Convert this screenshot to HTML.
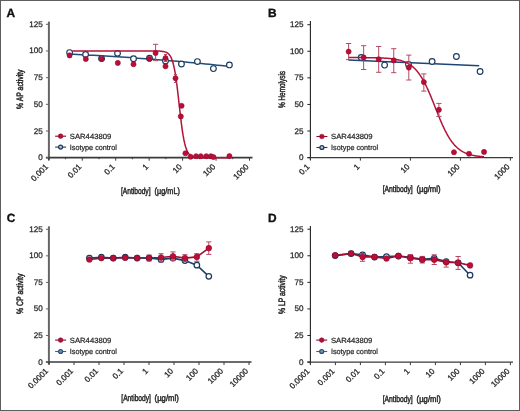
<!DOCTYPE html>
<html><head><meta charset="utf-8"><style>
html,body{margin:0;padding:0;background:#fff;}
body{width:520px;height:411px;overflow:hidden;position:relative;}
.frame{position:absolute;left:0;top:0;width:518px;height:409px;border:1px solid #5e5e5e;}
svg{position:absolute;left:0;top:0;will-change:transform;}
text{font-family:"Liberation Sans",sans-serif;text-rendering:geometricPrecision;}
.tk{font-size:8.1px;fill:#2b2b2b;stroke:#2b2b2b;stroke-width:0.28px;}
.lg{font-size:7.5px;fill:#2b2b2b;stroke:#2b2b2b;stroke-width:0.24px;}
.lb{font-weight:normal;fill:#2b2b2b;stroke:#2b2b2b;stroke-width:0.5px;}
</style></head><body>
<div class="frame"></div>
<svg width="520" height="411" viewBox="0 0 520 411">
<text x="6.5" y="16.7" font-weight="bold" font-size="11.9" fill="#111" stroke="#111" stroke-width="0.35">A</text>
<line x1="48.9" y1="21.6" x2="48.9" y2="160.2" stroke="#666" stroke-width="2"/>
<line x1="45.9" y1="157.7" x2="252.5" y2="157.7" stroke="#3a3a3a" stroke-width="1.8"/>
<line x1="45.9" y1="157.70" x2="48.9" y2="157.70" stroke="#666" stroke-width="1"/>
<text x="42.8" y="160.20" class="tk" text-anchor="end">0</text>
<line x1="45.9" y1="131.02" x2="48.9" y2="131.02" stroke="#666" stroke-width="1"/>
<text x="42.8" y="133.52" class="tk" text-anchor="end">25</text>
<line x1="45.9" y1="104.34" x2="48.9" y2="104.34" stroke="#666" stroke-width="1"/>
<text x="42.8" y="106.84" class="tk" text-anchor="end">50</text>
<line x1="45.9" y1="77.66" x2="48.9" y2="77.66" stroke="#666" stroke-width="1"/>
<text x="42.8" y="80.16" class="tk" text-anchor="end">75</text>
<line x1="45.9" y1="50.98" x2="48.9" y2="50.98" stroke="#666" stroke-width="1"/>
<text x="42.8" y="53.48" class="tk" text-anchor="end">100</text>
<line x1="45.9" y1="24.30" x2="48.9" y2="24.30" stroke="#666" stroke-width="1"/>
<text x="42.8" y="26.80" class="tk" text-anchor="end">125</text>
<line x1="48.80" y1="157.7" x2="48.80" y2="160.7" stroke="#3a3a3a" stroke-width="1"/>
<line x1="65.53" y1="157.7" x2="65.53" y2="159.2" stroke="#3a3a3a" stroke-width="1"/>
<text x="0" y="0" transform="translate(48.60,167.30) rotate(-45)" class="tk" text-anchor="end">0.001</text>
<line x1="82.25" y1="157.7" x2="82.25" y2="160.7" stroke="#3a3a3a" stroke-width="1"/>
<line x1="98.97" y1="157.7" x2="98.97" y2="159.2" stroke="#3a3a3a" stroke-width="1"/>
<text x="0" y="0" transform="translate(82.05,167.30) rotate(-45)" class="tk" text-anchor="end">0.01</text>
<line x1="115.70" y1="157.7" x2="115.70" y2="160.7" stroke="#3a3a3a" stroke-width="1"/>
<line x1="132.43" y1="157.7" x2="132.43" y2="159.2" stroke="#3a3a3a" stroke-width="1"/>
<text x="0" y="0" transform="translate(115.50,167.30) rotate(-45)" class="tk" text-anchor="end">0.1</text>
<line x1="149.15" y1="157.7" x2="149.15" y2="160.7" stroke="#3a3a3a" stroke-width="1"/>
<line x1="165.88" y1="157.7" x2="165.88" y2="159.2" stroke="#3a3a3a" stroke-width="1"/>
<text x="0" y="0" transform="translate(148.95,167.30) rotate(-45)" class="tk" text-anchor="end">1</text>
<line x1="182.60" y1="157.7" x2="182.60" y2="160.7" stroke="#3a3a3a" stroke-width="1"/>
<line x1="199.32" y1="157.7" x2="199.32" y2="159.2" stroke="#3a3a3a" stroke-width="1"/>
<text x="0" y="0" transform="translate(182.40,167.30) rotate(-45)" class="tk" text-anchor="end">10</text>
<line x1="216.05" y1="157.7" x2="216.05" y2="160.7" stroke="#3a3a3a" stroke-width="1"/>
<line x1="232.78" y1="157.7" x2="232.78" y2="159.2" stroke="#3a3a3a" stroke-width="1"/>
<text x="0" y="0" transform="translate(215.85,167.30) rotate(-45)" class="tk" text-anchor="end">100</text>
<line x1="249.50" y1="157.7" x2="249.50" y2="160.7" stroke="#3a3a3a" stroke-width="1"/>
<text x="0" y="0" transform="translate(249.30,167.30) rotate(-45)" class="tk" text-anchor="end">1000</text>
<text x="0" y="0" transform="translate(23.0,89.2) rotate(-90) scale(0.735,1)" class="lb" font-size="9.3" text-anchor="middle">% AP activity</text>
<text x="0" y="0" transform="translate(120.9,193.8) scale(0.74,1)" class="lb" font-size="9.0">[Antibody]</text>
<text x="0" y="0" transform="translate(154.6,193.8) scale(0.81,1)" class="lb" font-size="9.0">(µg/mL)</text>
<line x1="55.1" y1="136.2" x2="66.1" y2="136.2" stroke="#8e0b2d" stroke-width="1.1"/>
<circle cx="60.6" cy="136.2" r="2.35" fill="#b40d36" stroke="#8e0b2d" stroke-width="0.5"/>
<text x="0" y="0" transform="translate(69.8,138.79999999999998) scale(1.025,1)" class="lg">SAR443809</text>
<line x1="55.1" y1="147.1" x2="66.1" y2="147.1" stroke="#1c3a5e" stroke-width="1.1"/>
<circle cx="60.6" cy="147.1" r="1.95" fill="#b9c6d6" stroke="#1c3a5e" stroke-width="1.25"/>
<text x="0" y="0" transform="translate(69.8,149.7) scale(0.965,1)" class="lg">Isotype control</text>
<path d="M69.60,54.18 L73.59,54.36 L77.59,54.55 L81.58,54.75 L85.58,54.95 L89.57,55.16 L93.57,55.37 L97.56,55.59 L101.56,55.82 L105.55,56.05 L109.55,56.29 L113.55,56.54 L117.54,56.79 L121.53,57.05 L125.53,57.32 L129.52,57.59 L133.52,57.87 L137.51,58.15 L141.51,58.44 L145.50,58.74 L149.50,59.04 L153.50,59.35 L157.49,59.67 L161.49,59.99 L165.48,60.32 L169.48,60.66 L173.47,61.00 L177.47,61.35 L181.46,61.70 L185.46,62.06 L189.45,62.43 L193.44,62.80 L197.44,63.18 L201.44,63.57 L205.43,63.96 L209.42,64.36 L213.42,64.77 L217.41,65.18 L221.41,65.60 L225.41,66.02 L229.40,66.45" fill="none" stroke="#1f4e79" stroke-width="1.5"/>
<circle cx="69.6" cy="52.6" r="2.85" fill="#fff" stroke="#1c3a5e" stroke-width="1.15"/>
<circle cx="85.58" cy="54.4" r="2.85" fill="#fff" stroke="#1c3a5e" stroke-width="1.15"/>
<circle cx="101.56" cy="58.6" r="2.85" fill="#fff" stroke="#1c3a5e" stroke-width="1.15"/>
<circle cx="117.53999999999999" cy="53.3" r="2.85" fill="#fff" stroke="#1c3a5e" stroke-width="1.15"/>
<circle cx="133.51999999999998" cy="58.7" r="2.85" fill="#fff" stroke="#1c3a5e" stroke-width="1.15"/>
<circle cx="149.5" cy="58.2" r="2.85" fill="#fff" stroke="#1c3a5e" stroke-width="1.15"/>
<circle cx="165.48" cy="61.0" r="2.85" fill="#fff" stroke="#1c3a5e" stroke-width="1.15"/>
<circle cx="181.45999999999998" cy="64.0" r="2.85" fill="#fff" stroke="#1c3a5e" stroke-width="1.15"/>
<circle cx="197.44" cy="61.6" r="2.85" fill="#fff" stroke="#1c3a5e" stroke-width="1.15"/>
<circle cx="213.42" cy="68.6" r="2.85" fill="#fff" stroke="#1c3a5e" stroke-width="1.15"/>
<circle cx="229.4" cy="64.9" r="2.85" fill="#fff" stroke="#1c3a5e" stroke-width="1.15"/>
<path d="M72.30,50.98 L73.09,50.98 L73.87,50.98 L74.66,50.98 L75.44,50.98 L76.23,50.98 L77.01,50.98 L77.80,50.98 L78.58,50.98 L79.37,50.98 L80.16,50.98 L80.94,50.98 L81.73,50.98 L82.51,50.98 L83.30,50.98 L84.08,50.98 L84.87,50.98 L85.65,50.98 L86.44,50.98 L87.22,50.98 L88.01,50.98 L88.80,50.98 L89.58,50.98 L90.37,50.98 L91.15,50.98 L91.94,50.98 L92.72,50.98 L93.51,50.98 L94.29,50.98 L95.08,50.98 L95.87,50.98 L96.65,50.98 L97.44,50.98 L98.22,50.98 L99.01,50.98 L99.79,50.98 L100.58,50.98 L101.36,50.98 L102.15,50.98 L102.93,50.98 L103.72,50.98 L104.51,50.98 L105.29,50.98 L106.08,50.98 L106.86,50.98 L107.65,50.98 L108.43,50.98 L109.22,50.98 L110.00,50.98 L110.79,50.98 L111.58,50.98 L112.36,50.98 L113.15,50.98 L113.93,50.98 L114.72,50.98 L115.50,50.98 L116.29,50.98 L117.07,50.98 L117.86,50.98 L118.64,50.98 L119.43,50.98 L120.22,50.98 L121.00,50.98 L121.79,50.98 L122.57,50.98 L123.36,50.98 L124.14,50.98 L124.93,50.98 L125.71,50.98 L126.50,50.98 L127.28,50.98 L128.07,50.98 L128.86,50.98 L129.64,50.98 L130.43,50.98 L131.21,50.98 L132.00,50.98 L132.78,50.98 L133.57,50.98 L134.35,50.98 L135.14,50.98 L135.93,50.98 L136.71,50.98 L137.50,50.98 L138.28,50.98 L139.07,50.98 L139.85,50.98 L140.64,50.98 L141.42,50.98 L142.21,50.98 L143.00,50.98 L143.78,50.98 L144.57,50.98 L145.35,50.98 L146.14,50.98 L146.92,50.98 L147.71,50.98 L148.49,50.98 L149.28,50.98 L150.06,50.99 L150.85,50.99 L151.64,50.99 L152.42,50.99 L153.21,51.00 L153.99,51.00 L154.78,51.01 L155.56,51.02 L156.35,51.03 L157.13,51.04 L157.92,51.06 L158.71,51.09 L159.49,51.12 L160.28,51.16 L161.06,51.22 L161.85,51.29 L162.63,51.38 L163.42,51.51 L164.20,51.66 L164.99,51.87 L165.77,52.14 L166.56,52.48 L167.35,52.93 L168.13,53.51 L168.92,54.25 L169.70,55.21 L170.49,56.42 L171.27,57.97 L172.06,59.91 L172.84,62.33 L173.63,65.31 L174.42,68.93 L175.20,73.24 L175.99,78.26 L176.77,83.98 L177.56,90.30 L178.34,97.08 L179.13,104.10 L179.91,111.13 L180.70,117.93 L181.48,124.29 L182.27,130.05 L183.06,135.13 L183.84,139.48 L184.63,143.15 L185.41,146.17 L186.20,148.62 L186.98,150.59 L187.77,152.16 L188.55,153.40 L189.34,154.37 L190.12,155.13 L190.91,155.71 L191.70,156.17 L192.48,156.52 L193.27,156.79 L194.05,157.00 L194.84,157.16 L195.62,157.29 L196.41,157.38 L197.19,157.46 L197.98,157.51 L198.77,157.56 L199.55,157.59 L200.34,157.62 L201.12,157.64 L201.91,157.65 L202.69,157.66 L203.48,157.67 L204.26,157.68 L205.05,157.68 L205.84,157.69 L206.62,157.69 L207.41,157.69 L208.19,157.69 L208.98,157.70 L209.76,157.70 L210.55,157.70 L211.33,157.70 L212.12,157.70 L212.90,157.70 L213.69,157.70 L214.48,157.70 L215.26,157.70 L216.05,157.70 L216.83,157.70 L217.62,157.70 L218.40,157.70 L219.19,157.70 L219.97,157.70 L220.76,157.70 L221.55,157.70 L222.33,157.70 L223.12,157.70 L223.90,157.70 L224.69,157.70 L225.47,157.70 L226.26,157.70 L227.04,157.70 L227.83,157.70 L228.61,157.70 L229.40,157.70" fill="none" stroke="#b3123a" stroke-width="1.5"/>
<line x1="155.6" y1="44.3" x2="155.6" y2="60.7" stroke="#b34a66" stroke-width="1"/>
<line x1="153.0" y1="44.3" x2="158.2" y2="44.3" stroke="#b34a66" stroke-width="1"/>
<line x1="153.0" y1="60.7" x2="158.2" y2="60.7" stroke="#b34a66" stroke-width="1"/>
<line x1="165.5" y1="54.5" x2="165.5" y2="61.5" stroke="#b34a66" stroke-width="1"/>
<line x1="164.0" y1="54.5" x2="167.0" y2="54.5" stroke="#b34a66" stroke-width="1"/>
<line x1="164.0" y1="61.5" x2="167.0" y2="61.5" stroke="#b34a66" stroke-width="1"/>
<line x1="175.5" y1="74.6" x2="175.5" y2="82.5" stroke="#b34a66" stroke-width="1"/>
<line x1="174.0" y1="74.6" x2="177.0" y2="74.6" stroke="#b34a66" stroke-width="1"/>
<line x1="174.0" y1="82.5" x2="177.0" y2="82.5" stroke="#b34a66" stroke-width="1"/>
<circle cx="69.6" cy="55.4" r="2.55" fill="#bc0d37" stroke="#8e0b2d" stroke-width="0.6"/>
<circle cx="85.8" cy="59" r="2.55" fill="#bc0d37" stroke="#8e0b2d" stroke-width="0.6"/>
<circle cx="101.7" cy="58.75" r="2.55" fill="#bc0d37" stroke="#8e0b2d" stroke-width="0.6"/>
<circle cx="117.8" cy="62.9" r="2.55" fill="#bc0d37" stroke="#8e0b2d" stroke-width="0.6"/>
<circle cx="133.5" cy="64.2" r="2.55" fill="#bc0d37" stroke="#8e0b2d" stroke-width="0.6"/>
<circle cx="149.3" cy="58.75" r="2.55" fill="#bc0d37" stroke="#8e0b2d" stroke-width="0.6"/>
<circle cx="155.6" cy="53" r="2.55" fill="#bc0d37" stroke="#8e0b2d" stroke-width="0.6"/>
<circle cx="165.5" cy="58.1" r="2.55" fill="#bc0d37" stroke="#8e0b2d" stroke-width="0.6"/>
<circle cx="165.5" cy="66.3" r="2.55" fill="#bc0d37" stroke="#8e0b2d" stroke-width="0.6"/>
<circle cx="175.5" cy="78.2" r="2.55" fill="#bc0d37" stroke="#8e0b2d" stroke-width="0.6"/>
<circle cx="181.6" cy="105.8" r="2.55" fill="#bc0d37" stroke="#8e0b2d" stroke-width="0.6"/>
<circle cx="180.8" cy="116.4" r="2.55" fill="#bc0d37" stroke="#8e0b2d" stroke-width="0.6"/>
<circle cx="185.4" cy="153.3" r="2.55" fill="#bc0d37" stroke="#8e0b2d" stroke-width="0.6"/>
<circle cx="190.6" cy="156.7" r="2.55" fill="#bc0d37" stroke="#8e0b2d" stroke-width="0.6"/>
<circle cx="196.1" cy="156.2" r="2.55" fill="#bc0d37" stroke="#8e0b2d" stroke-width="0.6"/>
<circle cx="200.8" cy="156.2" r="2.55" fill="#bc0d37" stroke="#8e0b2d" stroke-width="0.6"/>
<circle cx="206.3" cy="156.2" r="2.55" fill="#bc0d37" stroke="#8e0b2d" stroke-width="0.6"/>
<circle cx="210.9" cy="156.2" r="2.55" fill="#bc0d37" stroke="#8e0b2d" stroke-width="0.6"/>
<circle cx="213.4" cy="157" r="2.55" fill="#bc0d37" stroke="#8e0b2d" stroke-width="0.6"/>
<circle cx="229.4" cy="156.1" r="2.55" fill="#bc0d37" stroke="#8e0b2d" stroke-width="0.6"/>
<text x="267.9" y="17.0" font-weight="bold" font-size="11.9" fill="#111" stroke="#111" stroke-width="0.35">B</text>
<line x1="310.4" y1="21.0" x2="310.4" y2="160.1" stroke="#222" stroke-width="1.1"/>
<line x1="307.4" y1="157.6" x2="513" y2="157.6" stroke="#3a3a3a" stroke-width="1.4"/>
<line x1="307.4" y1="157.60" x2="310.4" y2="157.60" stroke="#222" stroke-width="1"/>
<text x="303.59999999999997" y="160.10" class="tk" text-anchor="end">0</text>
<line x1="307.4" y1="131.02" x2="310.4" y2="131.02" stroke="#222" stroke-width="1"/>
<text x="303.59999999999997" y="133.52" class="tk" text-anchor="end">25</text>
<line x1="307.4" y1="104.44" x2="310.4" y2="104.44" stroke="#222" stroke-width="1"/>
<text x="303.59999999999997" y="106.94" class="tk" text-anchor="end">50</text>
<line x1="307.4" y1="77.86" x2="310.4" y2="77.86" stroke="#222" stroke-width="1"/>
<text x="303.59999999999997" y="80.36" class="tk" text-anchor="end">75</text>
<line x1="307.4" y1="51.28" x2="310.4" y2="51.28" stroke="#222" stroke-width="1"/>
<text x="303.59999999999997" y="53.78" class="tk" text-anchor="end">100</text>
<line x1="307.4" y1="24.70" x2="310.4" y2="24.70" stroke="#222" stroke-width="1"/>
<text x="303.59999999999997" y="27.20" class="tk" text-anchor="end">125</text>
<line x1="310.40" y1="157.6" x2="310.40" y2="160.6" stroke="#3a3a3a" stroke-width="1"/>
<text x="0" y="0" transform="translate(310.20,167.20) rotate(-45)" class="tk" text-anchor="end">0.1</text>
<line x1="360.40" y1="157.6" x2="360.40" y2="160.6" stroke="#3a3a3a" stroke-width="1"/>
<text x="0" y="0" transform="translate(360.20,167.20) rotate(-45)" class="tk" text-anchor="end">1</text>
<line x1="410.40" y1="157.6" x2="410.40" y2="160.6" stroke="#3a3a3a" stroke-width="1"/>
<text x="0" y="0" transform="translate(410.20,167.20) rotate(-45)" class="tk" text-anchor="end">10</text>
<line x1="460.40" y1="157.6" x2="460.40" y2="160.6" stroke="#3a3a3a" stroke-width="1"/>
<text x="0" y="0" transform="translate(460.20,167.20) rotate(-45)" class="tk" text-anchor="end">100</text>
<line x1="510.40" y1="157.6" x2="510.40" y2="160.6" stroke="#3a3a3a" stroke-width="1"/>
<text x="0" y="0" transform="translate(510.20,167.20) rotate(-45)" class="tk" text-anchor="end">1000</text>
<text x="0" y="0" transform="translate(284.6,89.5) rotate(-90) scale(0.69,1)" class="lb" font-size="9.3" text-anchor="middle">% Hemolysis</text>
<text x="0" y="0" transform="translate(382.7,191.7) scale(0.75,1)" class="lb" font-size="9.0">[Antibody]</text>
<text x="0" y="0" transform="translate(416.4,191.7) scale(0.855,1)" class="lb" font-size="9.0">(µg/ml)</text>
<line x1="316.4" y1="136.5" x2="327.4" y2="136.5" stroke="#8e0b2d" stroke-width="1.1"/>
<circle cx="321.9" cy="136.5" r="2.35" fill="#b40d36" stroke="#8e0b2d" stroke-width="0.5"/>
<text x="0" y="0" transform="translate(331.09999999999997,139.1) scale(1.025,1)" class="lg">SAR443809</text>
<line x1="316.4" y1="147.5" x2="327.4" y2="147.5" stroke="#1c3a5e" stroke-width="1.1"/>
<circle cx="321.9" cy="147.5" r="1.95" fill="#b9c6d6" stroke="#1c3a5e" stroke-width="1.25"/>
<text x="0" y="0" transform="translate(331.09999999999997,150.1) scale(0.965,1)" class="lg">Isotype control</text>
<line x1="348.4" y1="60.0" x2="479.2" y2="65.8" stroke="#1d4472" stroke-width="1.6"/>
<circle cx="361.2" cy="57.4" r="2.85" fill="#fff" stroke="#1c3a5e" stroke-width="1.15"/>
<circle cx="384.6" cy="65.1" r="2.85" fill="#fff" stroke="#1c3a5e" stroke-width="1.15"/>
<circle cx="408.5" cy="64.5" r="2.85" fill="#fff" stroke="#1c3a5e" stroke-width="1.15"/>
<circle cx="432.1" cy="61.5" r="2.85" fill="#fff" stroke="#1c3a5e" stroke-width="1.15"/>
<circle cx="456.4" cy="56.5" r="2.85" fill="#fff" stroke="#1c3a5e" stroke-width="1.15"/>
<circle cx="480.1" cy="71.5" r="2.85" fill="#fff" stroke="#1c3a5e" stroke-width="1.15"/>
<path d="M348.60,57.57 L349.28,57.58 L349.95,57.58 L350.63,57.58 L351.31,57.58 L351.99,57.58 L352.66,57.58 L353.34,57.58 L354.02,57.59 L354.69,57.59 L355.37,57.59 L356.05,57.59 L356.72,57.59 L357.40,57.60 L358.08,57.60 L358.75,57.60 L359.43,57.61 L360.11,57.61 L360.79,57.61 L361.46,57.62 L362.14,57.62 L362.82,57.62 L363.49,57.63 L364.17,57.63 L364.85,57.64 L365.53,57.64 L366.20,57.65 L366.88,57.66 L367.56,57.66 L368.23,57.67 L368.91,57.68 L369.59,57.69 L370.26,57.70 L370.94,57.71 L371.62,57.72 L372.30,57.73 L372.97,57.74 L373.65,57.75 L374.33,57.77 L375.00,57.78 L375.68,57.80 L376.36,57.81 L377.03,57.83 L377.71,57.85 L378.39,57.87 L379.06,57.89 L379.74,57.92 L380.42,57.94 L381.10,57.97 L381.77,58.00 L382.45,58.03 L383.13,58.06 L383.80,58.10 L384.48,58.14 L385.16,58.18 L385.84,58.22 L386.51,58.27 L387.19,58.32 L387.87,58.37 L388.54,58.43 L389.22,58.49 L389.90,58.55 L390.57,58.62 L391.25,58.70 L391.93,58.78 L392.61,58.86 L393.28,58.96 L393.96,59.05 L394.64,59.16 L395.31,59.27 L395.99,59.39 L396.67,59.51 L397.34,59.65 L398.02,59.80 L398.70,59.95 L399.38,60.12 L400.05,60.29 L400.73,60.48 L401.41,60.68 L402.08,60.90 L402.76,61.13 L403.44,61.37 L404.11,61.63 L404.79,61.90 L405.47,62.20 L406.14,62.51 L406.82,62.85 L407.50,63.20 L408.18,63.58 L408.85,63.98 L409.53,64.40 L410.21,64.85 L410.88,65.33 L411.56,65.83 L412.24,66.37 L412.92,66.94 L413.59,67.53 L414.27,68.17 L414.95,68.84 L415.62,69.54 L416.30,70.28 L416.98,71.06 L417.65,71.89 L418.33,72.75 L419.01,73.65 L419.69,74.60 L420.36,75.59 L421.04,76.63 L421.72,77.71 L422.39,78.83 L423.07,80.01 L423.75,81.22 L424.42,82.48 L425.10,83.79 L425.78,85.14 L426.46,86.53 L427.13,87.96 L427.81,89.43 L428.49,90.93 L429.16,92.48 L429.84,94.05 L430.52,95.65 L431.19,97.28 L431.87,98.94 L432.55,100.61 L433.23,102.30 L433.90,104.00 L434.58,105.71 L435.26,107.42 L435.93,109.13 L436.61,110.84 L437.29,112.54 L437.96,114.23 L438.64,115.91 L439.32,117.56 L440.00,119.20 L440.67,120.80 L441.35,122.38 L442.03,123.93 L442.70,125.44 L443.38,126.91 L444.06,128.35 L444.73,129.74 L445.41,131.10 L446.09,132.41 L446.76,133.68 L447.44,134.90 L448.12,136.07 L448.80,137.21 L449.47,138.29 L450.15,139.34 L450.83,140.33 L451.50,141.29 L452.18,142.20 L452.86,143.06 L453.54,143.89 L454.21,144.68 L454.89,145.42 L455.57,146.13 L456.24,146.81 L456.92,147.44 L457.60,148.05 L458.27,148.62 L458.95,149.16 L459.63,149.67 L460.31,150.15 L460.98,150.60 L461.66,151.03 L462.34,151.43 L463.01,151.81 L463.69,152.17 L464.37,152.51 L465.04,152.82 L465.72,153.12 L466.40,153.40 L467.07,153.66 L467.75,153.90 L468.43,154.13 L469.11,154.35 L469.78,154.55 L470.46,154.74 L471.14,154.92 L471.81,155.09 L472.49,155.24 L473.17,155.39 L473.85,155.53 L474.52,155.66 L475.20,155.78 L475.88,155.89 L476.55,155.99 L477.23,156.09 L477.91,156.18 L478.58,156.27 L479.26,156.35 L479.94,156.43 L480.62,156.50 L481.29,156.56 L481.97,156.62 L482.65,156.68 L483.32,156.74 L484.00,156.79" fill="none" stroke="#b3123a" stroke-width="1.5"/>
<line x1="348.6" y1="43.5" x2="348.6" y2="59.6" stroke="#b34a66" stroke-width="1"/>
<line x1="346.0" y1="43.5" x2="351.20000000000005" y2="43.5" stroke="#b34a66" stroke-width="1"/>
<line x1="346.0" y1="59.6" x2="351.20000000000005" y2="59.6" stroke="#b34a66" stroke-width="1"/>
<line x1="363.65000000000003" y1="45.7" x2="363.65000000000003" y2="69.5" stroke="#b34a66" stroke-width="1"/>
<line x1="361.05" y1="45.7" x2="366.25000000000006" y2="45.7" stroke="#b34a66" stroke-width="1"/>
<line x1="361.05" y1="69.5" x2="366.25000000000006" y2="69.5" stroke="#b34a66" stroke-width="1"/>
<line x1="378.70000000000005" y1="46.5" x2="378.70000000000005" y2="72.3" stroke="#b34a66" stroke-width="1"/>
<line x1="376.1" y1="46.5" x2="381.30000000000007" y2="46.5" stroke="#b34a66" stroke-width="1"/>
<line x1="376.1" y1="72.3" x2="381.30000000000007" y2="72.3" stroke="#b34a66" stroke-width="1"/>
<line x1="393.75" y1="48.7" x2="393.75" y2="72.7" stroke="#b34a66" stroke-width="1"/>
<line x1="391.15" y1="48.7" x2="396.35" y2="48.7" stroke="#b34a66" stroke-width="1"/>
<line x1="391.15" y1="72.7" x2="396.35" y2="72.7" stroke="#b34a66" stroke-width="1"/>
<line x1="408.8" y1="55.1" x2="408.8" y2="80" stroke="#b34a66" stroke-width="1"/>
<line x1="406.2" y1="55.1" x2="411.40000000000003" y2="55.1" stroke="#b34a66" stroke-width="1"/>
<line x1="406.2" y1="80" x2="411.40000000000003" y2="80" stroke="#b34a66" stroke-width="1"/>
<line x1="423.85" y1="73.9" x2="423.85" y2="91.1" stroke="#b34a66" stroke-width="1"/>
<line x1="421.25" y1="73.9" x2="426.45000000000005" y2="73.9" stroke="#b34a66" stroke-width="1"/>
<line x1="421.25" y1="91.1" x2="426.45000000000005" y2="91.1" stroke="#b34a66" stroke-width="1"/>
<line x1="438.90000000000003" y1="103.4" x2="438.90000000000003" y2="116.4" stroke="#b34a66" stroke-width="1"/>
<line x1="436.3" y1="103.4" x2="441.50000000000006" y2="103.4" stroke="#b34a66" stroke-width="1"/>
<line x1="436.3" y1="116.4" x2="441.50000000000006" y2="116.4" stroke="#b34a66" stroke-width="1"/>
<circle cx="348.6" cy="51.6" r="2.55" fill="#bc0d37" stroke="#8e0b2d" stroke-width="0.6"/>
<circle cx="363.65000000000003" cy="57.4" r="2.55" fill="#bc0d37" stroke="#8e0b2d" stroke-width="0.6"/>
<circle cx="378.70000000000005" cy="59.2" r="2.55" fill="#bc0d37" stroke="#8e0b2d" stroke-width="0.6"/>
<circle cx="393.75" cy="60.4" r="2.55" fill="#bc0d37" stroke="#8e0b2d" stroke-width="0.6"/>
<circle cx="408.8" cy="67.6" r="2.55" fill="#bc0d37" stroke="#8e0b2d" stroke-width="0.6"/>
<circle cx="423.85" cy="82.1" r="2.55" fill="#bc0d37" stroke="#8e0b2d" stroke-width="0.6"/>
<circle cx="438.90000000000003" cy="109.8" r="2.55" fill="#bc0d37" stroke="#8e0b2d" stroke-width="0.6"/>
<circle cx="453.95000000000005" cy="152.2" r="2.55" fill="#bc0d37" stroke="#8e0b2d" stroke-width="0.6"/>
<circle cx="469.0" cy="153.7" r="2.55" fill="#bc0d37" stroke="#8e0b2d" stroke-width="0.6"/>
<circle cx="484.05000000000007" cy="151.9" r="2.55" fill="#bc0d37" stroke="#8e0b2d" stroke-width="0.6"/>
<text x="6.8" y="221.8" font-weight="bold" font-size="11.9" fill="#111" stroke="#111" stroke-width="0.35">C</text>
<line x1="48.9" y1="226.3" x2="48.9" y2="364.5" stroke="#666" stroke-width="2"/>
<line x1="45.9" y1="362.0" x2="251.5" y2="362.0" stroke="#3a3a3a" stroke-width="1.4"/>
<line x1="45.9" y1="362.00" x2="48.9" y2="362.00" stroke="#666" stroke-width="1"/>
<text x="42.8" y="364.50" class="tk" text-anchor="end">0</text>
<line x1="45.9" y1="335.46" x2="48.9" y2="335.46" stroke="#666" stroke-width="1"/>
<text x="42.8" y="337.96" class="tk" text-anchor="end">25</text>
<line x1="45.9" y1="308.92" x2="48.9" y2="308.92" stroke="#666" stroke-width="1"/>
<text x="42.8" y="311.42" class="tk" text-anchor="end">50</text>
<line x1="45.9" y1="282.38" x2="48.9" y2="282.38" stroke="#666" stroke-width="1"/>
<text x="42.8" y="284.88" class="tk" text-anchor="end">75</text>
<line x1="45.9" y1="255.84" x2="48.9" y2="255.84" stroke="#666" stroke-width="1"/>
<text x="42.8" y="258.34" class="tk" text-anchor="end">100</text>
<line x1="45.9" y1="229.30" x2="48.9" y2="229.30" stroke="#666" stroke-width="1"/>
<text x="42.8" y="231.80" class="tk" text-anchor="end">125</text>
<line x1="49.00" y1="362.0" x2="49.00" y2="365.0" stroke="#3a3a3a" stroke-width="1"/>
<text x="0" y="0" transform="translate(48.80,371.60) rotate(-45)" class="tk" text-anchor="end">0.0001</text>
<line x1="74.00" y1="362.0" x2="74.00" y2="365.0" stroke="#3a3a3a" stroke-width="1"/>
<text x="0" y="0" transform="translate(73.80,371.60) rotate(-45)" class="tk" text-anchor="end">0.001</text>
<line x1="99.00" y1="362.0" x2="99.00" y2="365.0" stroke="#3a3a3a" stroke-width="1"/>
<text x="0" y="0" transform="translate(98.80,371.60) rotate(-45)" class="tk" text-anchor="end">0.01</text>
<line x1="124.00" y1="362.0" x2="124.00" y2="365.0" stroke="#3a3a3a" stroke-width="1"/>
<text x="0" y="0" transform="translate(123.80,371.60) rotate(-45)" class="tk" text-anchor="end">0.1</text>
<line x1="149.00" y1="362.0" x2="149.00" y2="365.0" stroke="#3a3a3a" stroke-width="1"/>
<text x="0" y="0" transform="translate(148.80,371.60) rotate(-45)" class="tk" text-anchor="end">1</text>
<line x1="174.00" y1="362.0" x2="174.00" y2="365.0" stroke="#3a3a3a" stroke-width="1"/>
<text x="0" y="0" transform="translate(173.80,371.60) rotate(-45)" class="tk" text-anchor="end">10</text>
<line x1="199.00" y1="362.0" x2="199.00" y2="365.0" stroke="#3a3a3a" stroke-width="1"/>
<text x="0" y="0" transform="translate(198.80,371.60) rotate(-45)" class="tk" text-anchor="end">100</text>
<line x1="224.00" y1="362.0" x2="224.00" y2="365.0" stroke="#3a3a3a" stroke-width="1"/>
<text x="0" y="0" transform="translate(223.80,371.60) rotate(-45)" class="tk" text-anchor="end">1000</text>
<line x1="249.00" y1="362.0" x2="249.00" y2="365.0" stroke="#3a3a3a" stroke-width="1"/>
<text x="0" y="0" transform="translate(248.80,371.60) rotate(-45)" class="tk" text-anchor="end">10000</text>
<text x="0" y="0" transform="translate(22.9,293.8) rotate(-90) scale(0.738,1)" class="lb" font-size="9.3" text-anchor="middle">% CP activity</text>
<text x="0" y="0" transform="translate(121.3,401.3) scale(0.74,1)" class="lb" font-size="9.0">[Antibody]</text>
<text x="0" y="0" transform="translate(154.6,401.3) scale(0.855,1)" class="lb" font-size="9.0">(µg/ml)</text>
<line x1="55.1" y1="340.1" x2="66.1" y2="340.1" stroke="#8e0b2d" stroke-width="1.1"/>
<circle cx="60.6" cy="340.1" r="2.35" fill="#b40d36" stroke="#8e0b2d" stroke-width="0.5"/>
<text x="0" y="0" transform="translate(69.8,342.70000000000005) scale(1.025,1)" class="lg">SAR443809</text>
<line x1="55.1" y1="351.5" x2="66.1" y2="351.5" stroke="#3a628c" stroke-width="1.1"/>
<circle cx="60.6" cy="351.5" r="1.95" fill="#7a9cc0" stroke="#2a4f78" stroke-width="1.25"/>
<text x="0" y="0" transform="translate(69.8,354.1) scale(0.965,1)" class="lg">Isotype control</text>
<polyline points="89.40,259.5 101.34,258.1 113.28,258.1 125.22,257.7 137.16,258.0 149.10,258.0 161.04,257.5 172.98,256.3 184.92,258.1 196.86,256.9 208.80,248.1" fill="none" stroke="#a10f35" stroke-width="1.6"/>
<polyline points="89.40,258.0 101.34,257.2 113.28,258.0 125.22,257.2 137.16,258.0 149.10,258.0 161.04,259.4 172.98,258.1 184.92,260.6 196.86,265.2 208.80,276.3" fill="none" stroke="#1b406c" stroke-width="1.6"/>
<circle cx="89.4" cy="258.0" r="2.75" fill="#fff" stroke="#1c3a5e" stroke-width="1.25"/>
<circle cx="101.34" cy="257.2" r="2.75" fill="#fff" stroke="#1c3a5e" stroke-width="1.25"/>
<circle cx="113.28" cy="258.0" r="2.75" fill="#fff" stroke="#1c3a5e" stroke-width="1.25"/>
<circle cx="125.22" cy="257.2" r="2.75" fill="#fff" stroke="#1c3a5e" stroke-width="1.25"/>
<circle cx="137.16" cy="258.0" r="2.75" fill="#fff" stroke="#1c3a5e" stroke-width="1.25"/>
<circle cx="149.1" cy="258.0" r="2.75" fill="#fff" stroke="#1c3a5e" stroke-width="1.25"/>
<circle cx="161.04000000000002" cy="259.4" r="2.75" fill="#fff" stroke="#1c3a5e" stroke-width="1.25"/>
<circle cx="172.98000000000002" cy="258.1" r="2.75" fill="#fff" stroke="#1c3a5e" stroke-width="1.25"/>
<circle cx="184.92000000000002" cy="260.6" r="2.75" fill="#fff" stroke="#1c3a5e" stroke-width="1.25"/>
<circle cx="196.86" cy="265.2" r="2.75" fill="#fff" stroke="#1c3a5e" stroke-width="1.25"/>
<circle cx="208.8" cy="276.3" r="2.75" fill="#fff" stroke="#1c3a5e" stroke-width="1.25"/>
<line x1="149.1" y1="255" x2="149.1" y2="261" stroke="#b34a66" stroke-width="1"/>
<line x1="146.5" y1="255" x2="151.7" y2="255" stroke="#b34a66" stroke-width="1"/>
<line x1="146.5" y1="261" x2="151.7" y2="261" stroke="#b34a66" stroke-width="1"/>
<line x1="161.04000000000002" y1="253.7" x2="161.04000000000002" y2="261.9" stroke="#b34a66" stroke-width="1"/>
<line x1="158.44000000000003" y1="253.7" x2="163.64000000000001" y2="253.7" stroke="#b34a66" stroke-width="1"/>
<line x1="158.44000000000003" y1="261.9" x2="163.64000000000001" y2="261.9" stroke="#b34a66" stroke-width="1"/>
<line x1="172.98000000000002" y1="251.9" x2="172.98000000000002" y2="260.6" stroke="#b34a66" stroke-width="1"/>
<line x1="170.38000000000002" y1="251.9" x2="175.58" y2="251.9" stroke="#b34a66" stroke-width="1"/>
<line x1="170.38000000000002" y1="260.6" x2="175.58" y2="260.6" stroke="#b34a66" stroke-width="1"/>
<line x1="184.92000000000002" y1="254.7" x2="184.92000000000002" y2="261.5" stroke="#b34a66" stroke-width="1"/>
<line x1="182.32000000000002" y1="254.7" x2="187.52" y2="254.7" stroke="#b34a66" stroke-width="1"/>
<line x1="182.32000000000002" y1="261.5" x2="187.52" y2="261.5" stroke="#b34a66" stroke-width="1"/>
<line x1="196.86" y1="253.7" x2="196.86" y2="261.3" stroke="#b34a66" stroke-width="1"/>
<line x1="194.26000000000002" y1="253.7" x2="199.46" y2="253.7" stroke="#b34a66" stroke-width="1"/>
<line x1="194.26000000000002" y1="261.3" x2="199.46" y2="261.3" stroke="#b34a66" stroke-width="1"/>
<line x1="208.8" y1="241.9" x2="208.8" y2="254.4" stroke="#b34a66" stroke-width="1"/>
<line x1="206.20000000000002" y1="241.9" x2="211.4" y2="241.9" stroke="#b34a66" stroke-width="1"/>
<line x1="206.20000000000002" y1="254.4" x2="211.4" y2="254.4" stroke="#b34a66" stroke-width="1"/>
<circle cx="89.4" cy="259.5" r="2.85" fill="#bc0d37" stroke="#8e0b2d" stroke-width="0.6"/>
<circle cx="101.34" cy="258.1" r="2.85" fill="#bc0d37" stroke="#8e0b2d" stroke-width="0.6"/>
<circle cx="113.28" cy="258.1" r="2.85" fill="#bc0d37" stroke="#8e0b2d" stroke-width="0.6"/>
<circle cx="125.22" cy="257.7" r="2.85" fill="#bc0d37" stroke="#8e0b2d" stroke-width="0.6"/>
<circle cx="137.16" cy="258.0" r="2.85" fill="#bc0d37" stroke="#8e0b2d" stroke-width="0.6"/>
<circle cx="149.1" cy="258.0" r="2.85" fill="#bc0d37" stroke="#8e0b2d" stroke-width="0.6"/>
<circle cx="161.04000000000002" cy="257.5" r="2.85" fill="#bc0d37" stroke="#8e0b2d" stroke-width="0.6"/>
<circle cx="172.98000000000002" cy="256.3" r="2.85" fill="#bc0d37" stroke="#8e0b2d" stroke-width="0.6"/>
<circle cx="184.92000000000002" cy="258.1" r="2.85" fill="#bc0d37" stroke="#8e0b2d" stroke-width="0.6"/>
<circle cx="196.86" cy="256.9" r="2.85" fill="#bc0d37" stroke="#8e0b2d" stroke-width="0.6"/>
<circle cx="208.8" cy="248.1" r="2.85" fill="#bc0d37" stroke="#8e0b2d" stroke-width="0.6"/>
<text x="267.9" y="222.1" font-weight="bold" font-size="11.9" fill="#111" stroke="#111" stroke-width="0.35">D</text>
<line x1="310.4" y1="226.0" x2="310.4" y2="364.6" stroke="#222" stroke-width="1.1"/>
<line x1="307.4" y1="362.1" x2="513" y2="362.1" stroke="#3a3a3a" stroke-width="1.4"/>
<line x1="307.4" y1="362.10" x2="310.4" y2="362.10" stroke="#222" stroke-width="1"/>
<text x="303.59999999999997" y="364.60" class="tk" text-anchor="end">0</text>
<line x1="307.4" y1="335.52" x2="310.4" y2="335.52" stroke="#222" stroke-width="1"/>
<text x="303.59999999999997" y="338.02" class="tk" text-anchor="end">25</text>
<line x1="307.4" y1="308.94" x2="310.4" y2="308.94" stroke="#222" stroke-width="1"/>
<text x="303.59999999999997" y="311.44" class="tk" text-anchor="end">50</text>
<line x1="307.4" y1="282.36" x2="310.4" y2="282.36" stroke="#222" stroke-width="1"/>
<text x="303.59999999999997" y="284.86" class="tk" text-anchor="end">75</text>
<line x1="307.4" y1="255.78" x2="310.4" y2="255.78" stroke="#222" stroke-width="1"/>
<text x="303.59999999999997" y="258.28" class="tk" text-anchor="end">100</text>
<line x1="307.4" y1="229.20" x2="310.4" y2="229.20" stroke="#222" stroke-width="1"/>
<text x="303.59999999999997" y="231.70" class="tk" text-anchor="end">125</text>
<line x1="310.40" y1="362.1" x2="310.40" y2="365.1" stroke="#3a3a3a" stroke-width="1"/>
<text x="0" y="0" transform="translate(310.20,371.70) rotate(-45)" class="tk" text-anchor="end">0.0001</text>
<line x1="335.40" y1="362.1" x2="335.40" y2="365.1" stroke="#3a3a3a" stroke-width="1"/>
<text x="0" y="0" transform="translate(335.20,371.70) rotate(-45)" class="tk" text-anchor="end">0.001</text>
<line x1="360.40" y1="362.1" x2="360.40" y2="365.1" stroke="#3a3a3a" stroke-width="1"/>
<text x="0" y="0" transform="translate(360.20,371.70) rotate(-45)" class="tk" text-anchor="end">0.01</text>
<line x1="385.40" y1="362.1" x2="385.40" y2="365.1" stroke="#3a3a3a" stroke-width="1"/>
<text x="0" y="0" transform="translate(385.20,371.70) rotate(-45)" class="tk" text-anchor="end">0.1</text>
<line x1="410.40" y1="362.1" x2="410.40" y2="365.1" stroke="#3a3a3a" stroke-width="1"/>
<text x="0" y="0" transform="translate(410.20,371.70) rotate(-45)" class="tk" text-anchor="end">1</text>
<line x1="435.40" y1="362.1" x2="435.40" y2="365.1" stroke="#3a3a3a" stroke-width="1"/>
<text x="0" y="0" transform="translate(435.20,371.70) rotate(-45)" class="tk" text-anchor="end">10</text>
<line x1="460.40" y1="362.1" x2="460.40" y2="365.1" stroke="#3a3a3a" stroke-width="1"/>
<text x="0" y="0" transform="translate(460.20,371.70) rotate(-45)" class="tk" text-anchor="end">100</text>
<line x1="485.40" y1="362.1" x2="485.40" y2="365.1" stroke="#3a3a3a" stroke-width="1"/>
<text x="0" y="0" transform="translate(485.20,371.70) rotate(-45)" class="tk" text-anchor="end">1000</text>
<line x1="510.40" y1="362.1" x2="510.40" y2="365.1" stroke="#3a3a3a" stroke-width="1"/>
<text x="0" y="0" transform="translate(510.20,371.70) rotate(-45)" class="tk" text-anchor="end">10000</text>
<text x="0" y="0" transform="translate(284.5,294.6) rotate(-90) scale(0.727,1)" class="lb" font-size="9.3" text-anchor="middle">% LP activity</text>
<text x="0" y="0" transform="translate(382.7,401.7) scale(0.75,1)" class="lb" font-size="9.0">[Antibody]</text>
<text x="0" y="0" transform="translate(416.6,401.7) scale(0.855,1)" class="lb" font-size="9.0">(µg/ml)</text>
<line x1="316.2" y1="340.1" x2="327.2" y2="340.1" stroke="#8e0b2d" stroke-width="1.1"/>
<circle cx="321.7" cy="340.1" r="2.35" fill="#b40d36" stroke="#8e0b2d" stroke-width="0.5"/>
<text x="0" y="0" transform="translate(330.9,342.70000000000005) scale(1.025,1)" class="lg">SAR443809</text>
<line x1="316.2" y1="351.5" x2="327.2" y2="351.5" stroke="#3a628c" stroke-width="1.1"/>
<circle cx="321.7" cy="351.5" r="1.95" fill="#7a9cc0" stroke="#2a4f78" stroke-width="1.25"/>
<text x="0" y="0" transform="translate(330.9,354.1) scale(0.965,1)" class="lg">Isotype control</text>
<polyline points="335.20,255.6 351.10,253.6 362.60,254.8 374.54,257.0 386.48,256.6 398.42,256.0 410.36,257.3 422.30,259.3 434.24,258.4 446.18,261.5 458.12,262.8 470.06,275.2" fill="none" stroke="#1b406c" stroke-width="1.6"/>
<polyline points="335.20,255.4 351.10,253.5 362.60,256.9 374.54,256.9 386.48,258.5 398.42,255.9 410.36,258.2 422.30,259.7 434.24,259.7 446.18,262.3 458.12,262.8 470.06,265.4" fill="none" stroke="#a10f35" stroke-width="1.6"/>
<circle cx="335.2" cy="255.6" r="2.75" fill="#fff" stroke="#1c3a5e" stroke-width="1.25"/>
<circle cx="351.1" cy="253.6" r="2.75" fill="#fff" stroke="#1c3a5e" stroke-width="1.25"/>
<circle cx="362.6" cy="254.8" r="2.75" fill="#fff" stroke="#1c3a5e" stroke-width="1.25"/>
<circle cx="374.54" cy="257.0" r="2.75" fill="#fff" stroke="#1c3a5e" stroke-width="1.25"/>
<circle cx="386.48" cy="256.6" r="2.75" fill="#fff" stroke="#1c3a5e" stroke-width="1.25"/>
<circle cx="398.42" cy="256.0" r="2.75" fill="#fff" stroke="#1c3a5e" stroke-width="1.25"/>
<circle cx="410.36" cy="257.3" r="2.75" fill="#fff" stroke="#1c3a5e" stroke-width="1.25"/>
<circle cx="422.3" cy="259.3" r="2.75" fill="#fff" stroke="#1c3a5e" stroke-width="1.25"/>
<circle cx="434.24" cy="258.4" r="2.75" fill="#fff" stroke="#1c3a5e" stroke-width="1.25"/>
<circle cx="446.18" cy="261.5" r="2.75" fill="#fff" stroke="#1c3a5e" stroke-width="1.25"/>
<circle cx="458.12" cy="262.8" r="2.75" fill="#fff" stroke="#1c3a5e" stroke-width="1.25"/>
<circle cx="470.06" cy="275.2" r="2.75" fill="#fff" stroke="#1c3a5e" stroke-width="1.25"/>
<line x1="362.6" y1="253.5" x2="362.6" y2="261.3" stroke="#b34a66" stroke-width="1"/>
<line x1="360.0" y1="253.5" x2="365.20000000000005" y2="253.5" stroke="#b34a66" stroke-width="1"/>
<line x1="360.0" y1="261.3" x2="365.20000000000005" y2="261.3" stroke="#b34a66" stroke-width="1"/>
<line x1="410.36" y1="254.6" x2="410.36" y2="263.2" stroke="#b34a66" stroke-width="1"/>
<line x1="407.76" y1="254.6" x2="412.96000000000004" y2="254.6" stroke="#b34a66" stroke-width="1"/>
<line x1="407.76" y1="263.2" x2="412.96000000000004" y2="263.2" stroke="#b34a66" stroke-width="1"/>
<line x1="422.3" y1="256.4" x2="422.3" y2="263" stroke="#b34a66" stroke-width="1"/>
<line x1="419.7" y1="256.4" x2="424.90000000000003" y2="256.4" stroke="#b34a66" stroke-width="1"/>
<line x1="419.7" y1="263" x2="424.90000000000003" y2="263" stroke="#b34a66" stroke-width="1"/>
<line x1="434.24" y1="254.8" x2="434.24" y2="264.5" stroke="#b34a66" stroke-width="1"/>
<line x1="431.64" y1="254.8" x2="436.84000000000003" y2="254.8" stroke="#b34a66" stroke-width="1"/>
<line x1="431.64" y1="264.5" x2="436.84000000000003" y2="264.5" stroke="#b34a66" stroke-width="1"/>
<line x1="446.18" y1="259.6" x2="446.18" y2="267.1" stroke="#b34a66" stroke-width="1"/>
<line x1="443.58" y1="259.6" x2="448.78000000000003" y2="259.6" stroke="#b34a66" stroke-width="1"/>
<line x1="443.58" y1="267.1" x2="448.78000000000003" y2="267.1" stroke="#b34a66" stroke-width="1"/>
<line x1="458.12" y1="256.5" x2="458.12" y2="269.4" stroke="#b34a66" stroke-width="1"/>
<line x1="455.52" y1="256.5" x2="460.72" y2="256.5" stroke="#b34a66" stroke-width="1"/>
<line x1="455.52" y1="269.4" x2="460.72" y2="269.4" stroke="#b34a66" stroke-width="1"/>
<circle cx="335.2" cy="255.4" r="2.85" fill="#bc0d37" stroke="#8e0b2d" stroke-width="0.6"/>
<circle cx="351.1" cy="253.5" r="2.85" fill="#bc0d37" stroke="#8e0b2d" stroke-width="0.6"/>
<circle cx="362.6" cy="256.9" r="2.85" fill="#bc0d37" stroke="#8e0b2d" stroke-width="0.6"/>
<circle cx="374.54" cy="256.9" r="2.85" fill="#bc0d37" stroke="#8e0b2d" stroke-width="0.6"/>
<circle cx="386.48" cy="258.5" r="2.85" fill="#bc0d37" stroke="#8e0b2d" stroke-width="0.6"/>
<circle cx="398.42" cy="255.9" r="2.85" fill="#bc0d37" stroke="#8e0b2d" stroke-width="0.6"/>
<circle cx="410.36" cy="258.2" r="2.85" fill="#bc0d37" stroke="#8e0b2d" stroke-width="0.6"/>
<circle cx="422.3" cy="259.7" r="2.85" fill="#bc0d37" stroke="#8e0b2d" stroke-width="0.6"/>
<circle cx="434.24" cy="259.7" r="2.85" fill="#bc0d37" stroke="#8e0b2d" stroke-width="0.6"/>
<circle cx="446.18" cy="262.3" r="2.85" fill="#bc0d37" stroke="#8e0b2d" stroke-width="0.6"/>
<circle cx="458.12" cy="262.8" r="2.85" fill="#bc0d37" stroke="#8e0b2d" stroke-width="0.6"/>
<circle cx="470.06" cy="265.4" r="2.85" fill="#bc0d37" stroke="#8e0b2d" stroke-width="0.6"/>
</svg>
</body></html>
